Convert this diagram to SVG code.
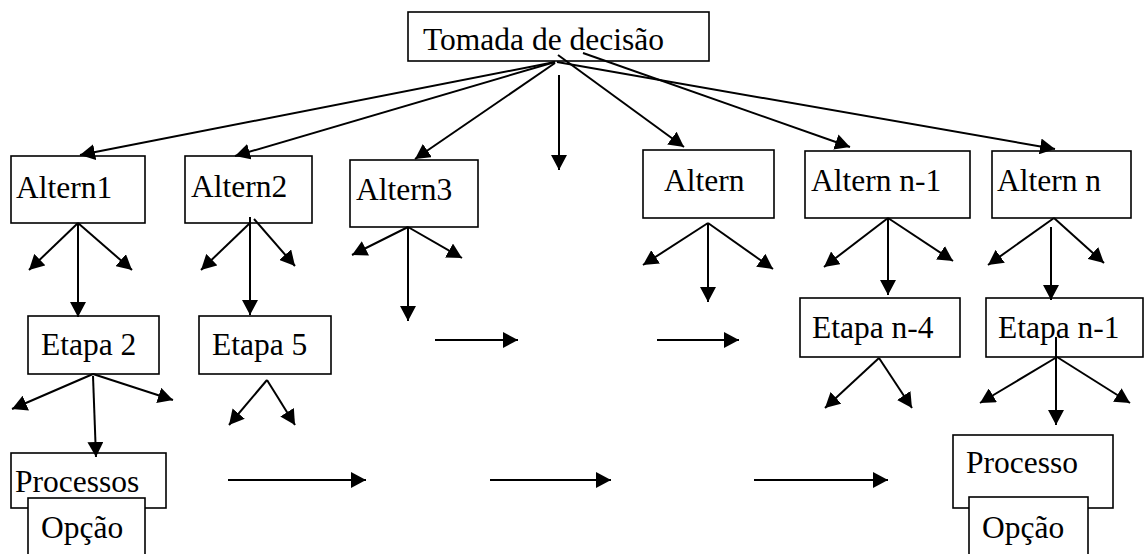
<svg xmlns="http://www.w3.org/2000/svg" width="1145" height="554" viewBox="0 0 1145 554">
  <style>
    .box { fill: #ffffff; stroke: #000000; stroke-width: 1.6; }
    .edge { stroke: #000000; stroke-width: 2; fill: none; marker-end: url(#arrow); }
  </style>
  <defs>
    <marker id="arrow" markerUnits="userSpaceOnUse" markerWidth="16" markerHeight="16" refX="15" refY="8" orient="auto">
      <path d="M0,0 L15,8 L0,16 Z" fill="#000000"/>
    </marker>
  </defs>

  <rect width="1145" height="554" fill="#ffffff"/>

  <!-- nodes; shared label font set on the wrapper -->
  <g id="nodes" font-family="Liberation Serif, serif" font-size="31.5" fill="#000000">
    <g id="tomada">
      <rect class="box" x="408" y="12" width="301" height="49"/>
      <text x="423" y="50">Tomada de decisão</text>
    </g>
    <g id="altern1">
      <rect class="box" x="11" y="156" width="134" height="67"/>
      <text x="16" y="198">Altern1</text>
    </g>
    <g id="altern2">
      <rect class="box" x="185" y="156" width="127" height="67"/>
      <text x="191" y="197">Altern2</text>
    </g>
    <g id="altern3">
      <rect class="box" x="350" y="160" width="128" height="67"/>
      <text x="356" y="200">Altern3</text>
    </g>
    <g id="altern">
      <rect class="box" x="643" y="150" width="131" height="68"/>
      <text x="664" y="191">Altern</text>
    </g>
    <g id="altern-n-1">
      <rect class="box" x="805" y="151" width="165" height="67"/>
      <text x="811" y="191">Altern n-1</text>
    </g>
    <g id="altern-n">
      <rect class="box" x="992" y="151" width="139" height="67"/>
      <text x="997" y="191">Altern n</text>
    </g>
    <g id="etapa2">
      <rect class="box" x="28" y="316" width="131" height="58"/>
      <text x="41" y="355">Etapa 2</text>
    </g>
    <g id="etapa5">
      <rect class="box" x="199" y="316" width="132" height="58"/>
      <text x="212" y="355">Etapa 5</text>
    </g>
    <g id="etapa-n-4">
      <rect class="box" x="800" y="298" width="160" height="59"/>
      <text x="812" y="338">Etapa n-4</text>
    </g>
    <g id="etapa-n-1">
      <rect class="box" x="986" y="298" width="157" height="59"/>
      <text x="998" y="338">Etapa n-1</text>
    </g>
    <g id="processos">
      <rect class="box" x="11" y="453" width="155" height="55"/>
      <text x="15" y="492">Processos</text>
    </g>
    <g id="opcao-left">
      <rect class="box" x="28" y="498" width="117" height="62"/>
      <text x="41" y="538">Opção</text>
    </g>
    <g id="processo">
      <rect class="box" x="953" y="435" width="160" height="73"/>
      <text x="966" y="473">Processo</text>
    </g>
    <g id="opcao-right">
      <rect class="box" x="969" y="497" width="119" height="63"/>
      <text x="982" y="538">Opção</text>
    </g>
  </g>

  <!-- connectors -->
  <g id="connectors">
    <!-- from the decision box -->
    <line class="edge" x1="555" y1="62" x2="80" y2="155"/>
    <line class="edge" x1="555" y1="62" x2="235" y2="156"/>
    <line class="edge" x1="555" y1="63" x2="415" y2="159"/>
    <line class="edge" x1="559" y1="75" x2="559" y2="170"/>
    <line class="edge" x1="558" y1="55" x2="684" y2="147"/>
    <line class="edge" x1="583" y1="53" x2="850" y2="147"/>
    <line class="edge" x1="557" y1="62" x2="1055" y2="149"/>

    <!-- Altern1 -->
    <line class="edge" x1="78" y1="223" x2="29" y2="270"/>
    <line class="edge" x1="78" y1="223" x2="132" y2="270"/>
    <line class="edge" x1="78" y1="223" x2="78" y2="317"/>
    <!-- Altern2 -->
    <line class="edge" x1="250" y1="223" x2="201" y2="270"/>
    <line class="edge" x1="254" y1="219" x2="295" y2="266"/>
    <line class="edge" x1="250" y1="217" x2="250" y2="315"/>
    <!-- Altern3 -->
    <line class="edge" x1="408" y1="227" x2="352" y2="255"/>
    <line class="edge" x1="408" y1="227" x2="462" y2="258"/>
    <line class="edge" x1="408" y1="227" x2="408" y2="321"/>
    <!-- middle row -->
    <line class="edge" x1="435" y1="340" x2="518" y2="340"/>
    <line class="edge" x1="657" y1="340" x2="739" y2="340"/>
    <!-- Altern -->
    <line class="edge" x1="708" y1="223" x2="643" y2="265"/>
    <line class="edge" x1="708" y1="223" x2="773" y2="269"/>
    <line class="edge" x1="708" y1="223" x2="708" y2="302"/>
    <!-- Altern n-1 -->
    <line class="edge" x1="888" y1="218" x2="824" y2="267"/>
    <line class="edge" x1="888" y1="218" x2="953" y2="261"/>
    <line class="edge" x1="888" y1="218" x2="888" y2="295"/>
    <!-- Altern n -->
    <line class="edge" x1="1054" y1="218" x2="988" y2="265"/>
    <line class="edge" x1="1054" y1="218" x2="1104" y2="263"/>
    <line class="edge" x1="1051" y1="227" x2="1051" y2="300"/>
    <!-- Etapa 2 -->
    <line class="edge" x1="93" y1="374" x2="12" y2="409"/>
    <line class="edge" x1="93" y1="374" x2="173" y2="400"/>
    <line class="edge" x1="93" y1="376" x2="96" y2="457"/>
    <!-- Etapa 5 -->
    <line class="edge" x1="267" y1="380" x2="229" y2="425"/>
    <line class="edge" x1="267" y1="380" x2="295" y2="425"/>
    <!-- Etapa n-4 -->
    <line class="edge" x1="879" y1="358" x2="825" y2="408"/>
    <line class="edge" x1="879" y1="358" x2="912" y2="408"/>
    <!-- Etapa n-1 -->
    <line class="edge" x1="1057" y1="357" x2="980" y2="403"/>
    <line class="edge" x1="1057" y1="357" x2="1130" y2="403"/>
    <line class="edge" x1="1056" y1="337" x2="1056" y2="425"/>
    <!-- bottom row -->
    <line class="edge" x1="228" y1="480" x2="366" y2="480"/>
    <line class="edge" x1="490" y1="480" x2="611" y2="480"/>
    <line class="edge" x1="754" y1="480" x2="888" y2="480"/>
  </g>
</svg>
